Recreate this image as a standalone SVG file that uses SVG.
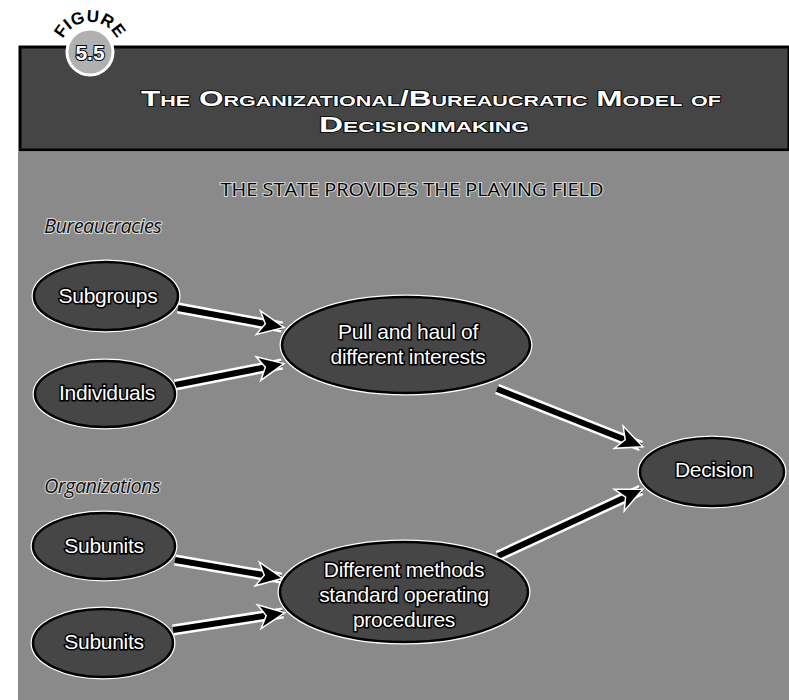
<svg xmlns="http://www.w3.org/2000/svg" width="789" height="700" viewBox="0 0 789 700">
<style>
.node ellipse{fill:#464646;stroke:#000;stroke-width:2.5}
.node ellipse.halo{fill:none;stroke:#fff;stroke-width:5}
.lbl{font-family:"Liberation Sans",sans-serif;font-size:21px;fill:#fff;stroke:#000;stroke-width:3;paint-order:stroke;text-anchor:middle;letter-spacing:-0.3px}
.grp{font-family:"Open Sans","Liberation Sans",sans-serif;font-style:italic;font-size:20px;fill:#111;stroke:#ddd;stroke-width:2;paint-order:stroke;letter-spacing:-0.6px}
.title{font-family:"Liberation Sans",sans-serif;font-weight:bold;fill:#fff;stroke:#000;stroke-width:1.5;paint-order:stroke;text-anchor:middle;font-variant:small-caps}
.sub{font-family:"Open Sans","Liberation Sans",sans-serif;font-size:18px;fill:#000;stroke:#d8d8d8;stroke-width:2;paint-order:stroke;text-anchor:middle}
.shaft-halo{stroke:#fff;stroke-width:11;fill:none}
.shaft{stroke:#000;stroke-width:6;fill:none}
</style>
<defs>
<marker id="ah" markerUnits="userSpaceOnUse" markerWidth="30" markerHeight="30" viewBox="0 0 30 30" refX="26" refY="15" orient="auto">
<path d="M2,3 L28,15 L2,27 L9,15 Z" fill="#000" stroke="#fff" stroke-width="1.5"/>
</marker>
<path id="arc" d="M60,52 A30,30 0 0 1 120,52"/>
</defs>
<rect x="0" y="0" width="789" height="700" fill="#fff"/>
<g id="background">
<rect x="18" y="152" width="771" height="548" fill="#8a8a8a"/>
<rect x="20" y="47" width="769" height="103" fill="#454545" stroke="#000" stroke-width="3"/>
</g>
<g id="badge">
<circle cx="90" cy="52" r="23" fill="#b0b0b0" stroke="#fff" stroke-width="3"/>
<text font-family="Liberation Sans,sans-serif" font-weight="bold" font-size="17" fill="#000" stroke="#fff" stroke-width="2" paint-order="stroke" letter-spacing="0.5"><textPath href="#arc" startOffset="50%" text-anchor="middle">FIGURE</textPath></text>
<text x="90" y="60" font-family="Liberation Sans,sans-serif" font-weight="bold" font-size="21" fill="#fff" stroke="#000" stroke-width="2" paint-order="stroke" text-anchor="middle">5.5</text>
</g>
<g id="title">
<text class="title" x="431" y="106" font-size="22" textLength="580" lengthAdjust="spacingAndGlyphs">The Organizational/Bureaucratic Model of</text>
<text class="title" x="424" y="132" font-size="22" textLength="210" lengthAdjust="spacingAndGlyphs">Decisionmaking</text>
</g>
<text class="sub" x="412" y="196" textLength="383" lengthAdjust="spacingAndGlyphs">THE STATE PROVIDES THE PLAYING FIELD</text>
<text class="grp" x="44" y="233">Bureaucracies</text>
<text class="grp" x="44" y="493">Organizations</text>
<g id="connectors">
<path class="shaft-halo" d="M178,308 L282,327"/>
<path class="shaft" d="M178,308 L282,327" marker-end="url(#ah)"/>
<path class="shaft-halo" d="M175,385 L282,364"/>
<path class="shaft" d="M175,385 L282,364" marker-end="url(#ah)"/>
<path class="shaft-halo" d="M497,389 L641,446"/>
<path class="shaft" d="M497,389 L641,446" marker-end="url(#ah)"/>
<path class="shaft-halo" d="M175,560 L281,578"/>
<path class="shaft" d="M175,560 L281,578" marker-end="url(#ah)"/>
<path class="shaft-halo" d="M173,630 L283,613"/>
<path class="shaft" d="M173,630 L283,613" marker-end="url(#ah)"/>
<path class="shaft-halo" d="M498,556 L641,490"/>
<path class="shaft" d="M498,556 L641,490" marker-end="url(#ah)"/>
</g>
<g id="subgroups" class="node">
<ellipse class="halo" cx="106" cy="296" rx="72" ry="34"/>
<ellipse cx="106" cy="296" rx="72" ry="34"/>
<text class="lbl" x="108" y="303">Subgroups</text>
</g>
<g id="individuals" class="node">
<ellipse class="halo" cx="105" cy="394" rx="70" ry="33"/>
<ellipse cx="105" cy="394" rx="70" ry="33"/>
<text class="lbl" x="107" y="400">Individuals</text>
</g>
<g id="pullhaul" class="node">
<ellipse class="halo" cx="406" cy="345" rx="124" ry="48"/>
<ellipse cx="406" cy="345" rx="124" ry="48"/>
<text class="lbl" x="408" y="339">Pull and haul of</text>
<text class="lbl" x="408" y="364">different interests</text>
</g>
<g id="decision" class="node">
<ellipse class="halo" cx="712" cy="472" rx="72" ry="34"/>
<ellipse cx="712" cy="472" rx="72" ry="34"/>
<text class="lbl" x="714" y="477">Decision</text>
</g>
<g id="subunits1" class="node">
<ellipse class="halo" cx="104" cy="546" rx="71" ry="33"/>
<ellipse cx="104" cy="546" rx="71" ry="33"/>
<text class="lbl" x="104" y="553">Subunits</text>
</g>
<g id="subunits2" class="node">
<ellipse class="halo" cx="103" cy="643" rx="70" ry="34"/>
<ellipse cx="103" cy="643" rx="70" ry="34"/>
<text class="lbl" x="104" y="649">Subunits</text>
</g>
<g id="methods" class="node">
<ellipse class="halo" cx="404" cy="592" rx="124" ry="50"/>
<ellipse cx="404" cy="592" rx="124" ry="50"/>
<text class="lbl" x="404" y="577">Different methods</text>
<text class="lbl" x="404" y="602">standard operating</text>
<text class="lbl" x="404" y="627">procedures</text>
</g>
</svg>
